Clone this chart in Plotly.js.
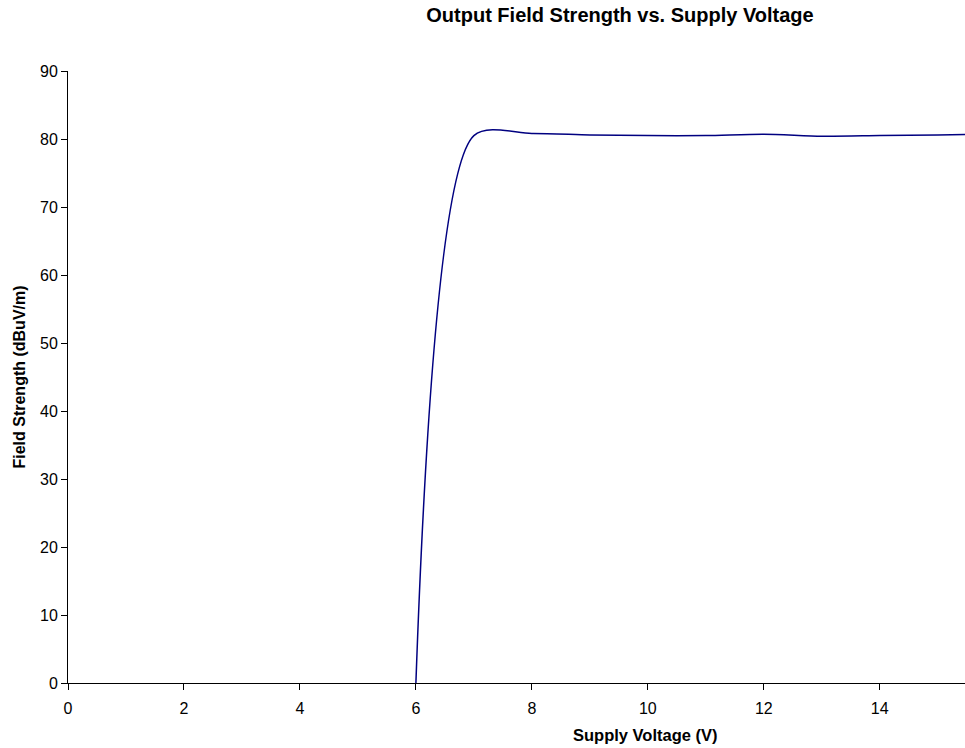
<!DOCTYPE html>
<html>
<head>
<meta charset="utf-8">
<script src="https://cdn.plot.ly/plotly-3.0.1.min.js"></script>
<style>
html,body{margin:0;padding:0;background:#fff;}
#chart{width:965px;height:748px;}
</style>
</head>
<body>
<div id="chart"></div>
<script>
// Supply voltage (V)
const voltage = [6, 7, 8, 9, 10, 11, 12, 13, 14, 15, 16];
// Field strength (dBuV/m)
const fieldStrength = [0, 80.5, 80.8, 80.6, 80.5, 80.5, 80.7, 80.4, 80.5, 80.6, 80.7];
const xTicks = [0, 2, 4, 6, 8, 10, 12, 14];
const yTicks = [0, 10, 20, 30, 40, 50, 60, 70, 80, 90];

const font = 'Arial, "Liberation Sans", sans-serif';

const trace = {
  x: voltage,
  y: fieldStrength,
  type: 'scatter',
  mode: 'lines',
  line: {color: '#000080', width: 1.5, shape: 'spline', smoothing: 0.8},
  hoverinfo: 'x+y',
  showlegend: false
};

const layout = {
  width: 965,
  height: 748,
  margin: {l: 68, r: 0, t: 71, b: 65},
  paper_bgcolor: '#ffffff',
  plot_bgcolor: '#ffffff',
  font: {family: font, size: 16, color: '#000'},
  title: {
    text: '<b>Output Field Strength vs. Supply Voltage</b>',
    font: {family: font, size: 20, color: '#000'},
    xref: 'container', x: 620 / 965, xanchor: 'center',
    yref: 'container', y: 1 - 15 / 748, yanchor: 'middle'
  },
  xaxis: {
    range: [0, 15.47],
    tickvals: xTicks,
    ticktext: xTicks.map(String),
    ticks: 'outside', ticklen: 6, tickwidth: 1, tickcolor: '#000',
    ticklabelstandoff: 5,
    showline: true, linecolor: '#000', linewidth: 1,
    showgrid: false, zeroline: false,
    tickfont: {family: font, size: 16, color: '#000'}
  },
  yaxis: {
    range: [0, 90],
    tickvals: yTicks,
    ticktext: yTicks.map(String),
    ticks: 'outside', ticklen: 6, tickwidth: 1, tickcolor: '#000',
    showline: true, linecolor: '#000', linewidth: 1,
    showgrid: false, zeroline: false,
    tickfont: {family: font, size: 16, color: '#000'},
    title: {text: '<b>Field Strength (dBuV/m)</b>', font: {family: font, size: 16, color: '#000'}, standoff: 10}
  },
  annotations: [{
    text: '<b>Supply Voltage (V)</b>',
    xref: 'paper', yref: 'paper',
    x: (645 - 68) / 897, y: -(735 - 683) / 612,
    xanchor: 'center', yanchor: 'middle',
    showarrow: false,
    font: {family: font, size: 16.5, color: '#000'}
  }]
};

Plotly.newPlot('chart', [trace], layout, {displayModeBar: false, staticPlot: true});
</script>
</body>
</html>
